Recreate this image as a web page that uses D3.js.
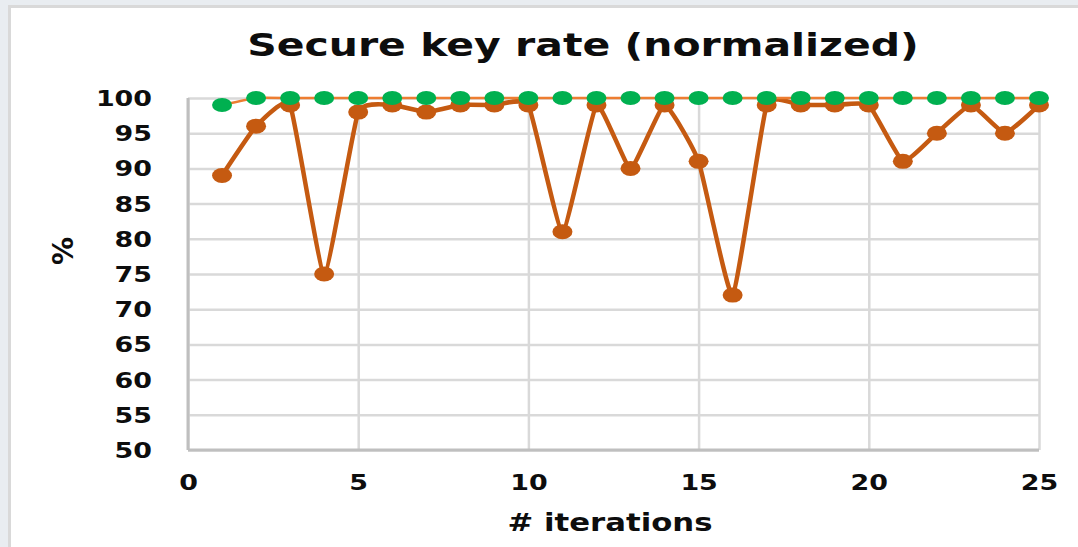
<!DOCTYPE html>
<html>
<head>
<meta charset="utf-8">
<script src="https://cdn.jsdelivr.net/npm/d3@7"></script>
<style>
  html, body { margin: 0; padding: 0; background: #e9edf1; overflow: hidden; }
  text { font-family: "DejaVu Sans", Verdana, sans-serif; font-weight: bold; fill: #0d0d0d; }
</style>
</head>
<body>
<script>
// iterations 1..25
var iterations = d3.range(1, 26);
// secure key rate, normalized (%)
var rateMeasured = [89, 96, 99, 75, 98, 99, 98, 99, 99, 99, 81, 99, 90, 99, 91, 72, 99, 99, 99, 99, 91, 95, 99, 95, 99];
var rateReference = [99, 100, 100, 100, 100, 100, 100, 100, 100, 100, 100, 100, 100, 100, 100, 100, 100, 100, 100, 100, 100, 100, 100, 100, 100];
var xTicks = [0, 5, 10, 15, 20, 25];
var yTicks = [50, 55, 60, 65, 70, 75, 80, 85, 90, 95, 100];

var width = 1078, height = 547;
var plot = {left: 188, right: 1039, top: 98, bottom: 450};
var stretch = 1.28; // the source picture is a bit wider than tall

var svg = d3.select("body").append("svg")
  .attr("width", width)
  .attr("height", height);

// chart box
svg.append("rect")
  .attr("x", 9.5).attr("y", 6.5)
  .attr("width", width + 20).attr("height", height + 20)
  .style("fill", "white")
  .style("stroke", "#d9d9d9")
  .style("stroke-width", 3);

var x = d3.scaleLinear().domain([0, 25]).range([plot.left, plot.right]);
var y = d3.scaleLinear().domain([50, 100]).range([plot.bottom, plot.top]);

function widen(sel, k) {
  sel.each(function () {
    var len = this.getComputedTextLength();
    d3.select(this).attr("textLength", len * k).attr("lengthAdjust", "spacingAndGlyphs");
  });
}

// gridlines
svg.append("g")
  .attr("transform", "translate(0," + plot.bottom + ")")
  .call(d3.axisBottom(x).tickValues(xTicks).tickSize(-(plot.bottom - plot.top)).tickFormat(""))
  .call(g => g.select(".domain").remove())
  .call(g => g.selectAll("line").style("stroke", "#d9d9d9").style("stroke-width", 2.5));

svg.append("g")
  .attr("transform", "translate(" + plot.left + ",0)")
  .call(d3.axisLeft(y).tickValues(yTicks).tickSize(-(plot.right - plot.left)).tickFormat(""))
  .call(g => g.select(".domain").remove())
  .call(g => g.selectAll("line").style("stroke", "#d9d9d9").style("stroke-width", 2.5));

// axis lines
svg.append("line")
  .attr("x1", plot.left).attr("x2", plot.left)
  .attr("y1", plot.top).attr("y2", plot.bottom)
  .style("stroke", "#bfbfbf").style("stroke-width", 3);
svg.append("line")
  .attr("x1", plot.left).attr("x2", plot.right)
  .attr("y1", plot.bottom).attr("y2", plot.bottom)
  .style("stroke", "#bfbfbf").style("stroke-width", 3);

// tick labels
var yAxis = svg.append("g")
  .attr("transform", "translate(" + (plot.left - 36) + ",0)")
  .call(d3.axisLeft(y).tickValues(yTicks).tickSize(0).tickPadding(0))
  .call(g => g.select(".domain").remove());
yAxis.selectAll("text")
  .attr("dy", "0.36em")
  .style("font-size", "21px")
  .style("font-family", "DejaVu Sans")
  .style("fill", "#0d0d0d")
  .call(widen, stretch);

var xAxis = svg.append("g")
  .attr("transform", "translate(0," + plot.bottom + ")")
  .call(d3.axisBottom(x).tickValues(xTicks).tickSize(0).tickPadding(0))
  .call(g => g.select(".domain").remove());
xAxis.selectAll("text")
  .attr("y", 40)
  .attr("dy", 0)
  .style("font-size", "21px")
  .style("font-family", "DejaVu Sans")
  .style("fill", "#0d0d0d")
  .call(widen, stretch);

// title and axis titles
svg.append("text")
  .attr("x", 583).attr("y", 56)
  .attr("text-anchor", "middle")
  .style("font-size", "32px")
  .text("Secure key rate (normalized)")
  .call(widen, 1.28);

svg.append("text")
  .attr("x", 610).attr("y", 531)
  .attr("text-anchor", "middle")
  .style("font-size", "24px")
  .text("# iterations")
  .call(widen, stretch);

svg.append("text")
  .attr("transform", "translate(73,251) rotate(-90)")
  .attr("text-anchor", "middle")
  .style("font-size", "28px")
  .text("%");

// series
var measured = iterations.map((it, i) => ({it: it, v: rateMeasured[i]}));
var reference = iterations.map((it, i) => ({it: it, v: rateReference[i]}));

// Excel-style light smoothing: nearly straight segments, softened corners
var line = d3.line()
  .x(d => x(d.it))
  .y(d => y(d.v))
  .curve(d3.curveCardinal.tension(0.6));

svg.append("path")
  .datum(measured)
  .attr("d", line)
  .style("fill", "none")
  .style("stroke", "#c55a11")
  .style("stroke-width", 4.5);

svg.append("g").selectAll("ellipse")
  .data(measured)
  .join("ellipse")
  .attr("cx", d => x(d.it))
  .attr("cy", d => y(d.v))
  .attr("rx", 10).attr("ry", 7.5)
  .style("fill", "#c55a11");

svg.append("path")
  .datum(reference)
  .attr("d", line)
  .style("fill", "none")
  .style("stroke", "#ed7d31")
  .style("stroke-width", 2.5);

svg.append("g").selectAll("ellipse")
  .data(reference)
  .join("ellipse")
  .attr("cx", d => x(d.it))
  .attr("cy", d => y(d.v))
  .attr("rx", 10).attr("ry", 7)
  .style("fill", "#00b050");
</script>
</body>
</html>
